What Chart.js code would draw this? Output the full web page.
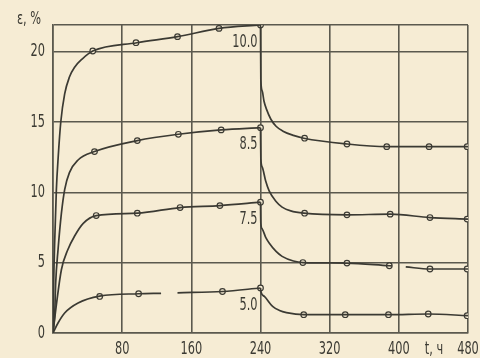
<!DOCTYPE html>
<html>
<head>
<meta charset="utf-8">
<script src="https://cdn.jsdelivr.net/npm/chart.js@4/dist/chart.umd.min.js"></script>
<style>
  html, body { margin: 0; padding: 0; background: #f6ecd4; }
  #chart { display: block; }
</style>
</head>
<body>
<canvas id="chart" width="480" height="358"></canvas>
<script>
// stress levels (curve labels)
const stressLabels = ['10.0', '8.5', '7.5', '5.0'];

// axis ticks
const xTicks = [0, 80, 160, 240, 320, 400, 480];
const yTicks = [0, 5, 10, 15, 20];
const yTop = 21.9;

// creep part (loading, t = 0..240 h)
const creepT100 = [0, 0.8, 2, 3.9, 6, 9, 13.5, 19, 25, 34, 46, 97, 144, 192, 240];
const creepE100 = [0, 3.6, 6.6, 10.2, 12.5, 15, 17, 18.2, 18.9, 19.5, 20.05, 20.64, 21.07, 21.66, 21.9];
const creepT85 = [0, 2, 3.1, 5.8, 9.7, 13.5, 19, 29, 48, 97.5, 145, 194.5, 240];
const creepE85 = [0, 1.4, 3.55, 5.9, 8.5, 10.2, 11.4, 12.3, 12.9, 13.68, 14.13, 14.44, 14.6];
const creepT75 = [0, 3.9, 9.7, 17, 25, 35, 50, 97.5, 147, 193, 240];
const creepE75 = [0, 2, 4.5, 5.9, 6.9, 7.8, 8.35, 8.52, 8.92, 9.06, 9.3];
const creepT50 = [0, 5.8, 13.5, 29, 54, 99, 125, 135, 144, 196, 240];
const creepE50 = [0, 0.71, 1.42, 2.13, 2.62, 2.79, 2.82, null, 2.86, 2.95, 3.2];

// recovery part (unloaded, t = 240..480 h)
const recovT100 = [240, 240.4, 242, 244, 247, 252, 258, 266, 278, 290, 340, 386, 435, 480];
const recovE100 = [21.9, 18.0, 17.2, 16.5, 15.9, 15.2, 14.7, 14.35, 14.05, 13.85, 13.44, 13.25, 13.25, 13.25];
const recovT85 = [240, 240.4, 242, 246, 250, 258, 265, 275, 290, 340, 390, 436, 480];
const recovE85 = [14.6, 12.4, 11.8, 10.8, 10.1, 9.35, 8.95, 8.68, 8.52, 8.4, 8.45, 8.21, 8.1];
const recovT75 = [240, 240.4, 242, 246, 250, 258, 265, 278, 289, 340, 389, 392, 400, 408, 436, 480];
const recovE75 = [9.3, 7.8, 7.4, 6.8, 6.4, 5.8, 5.45, 5.12, 5.01, 4.97, 4.78, 4.77, null, 4.7, 4.55, 4.55];
const recovT50 = [240, 240.4, 244.5, 254, 262, 270, 290, 338, 388, 434, 480];
const recovE50 = [3.2, 2.95, 2.6, 1.89, 1.6, 1.45, 1.3, 1.3, 1.3, 1.35, 1.23];

// measured points (circles)
const markT100 = [46, 96, 144, 192, 240, 291, 340, 386, 435, 479];
const markE100 = [20.05, 20.64, 21.07, 21.66, 21.9, 13.85, 13.44, 13.25, 13.25, 13.25];
const markT85 = [48, 97.5, 145, 194.5, 240, 291, 340, 390, 436, 479];
const markE85 = [12.9, 13.68, 14.13, 14.44, 14.6, 8.52, 8.4, 8.45, 8.21, 8.1];
const markT75 = [50, 97.5, 147, 193, 240, 289, 340, 389, 436, 479];
const markE75 = [8.35, 8.52, 8.92, 9.06, 9.3, 5.01, 4.97, 4.78, 4.55, 4.55];
const markT50 = [54, 99, 196, 240, 290, 338, 388, 434, 479];
const markE50 = [2.6, 2.79, 2.95, 3.2, 1.3, 1.3, 1.3, 1.35, 1.23];

// colours / fonts
const paper = '#f6ecd4';
const ink = '#3b3a33';
const gridInk = '#5b594e';
const narrowFont = "18px 'DejaVu Sans Condensed', 'DejaVu Sans', sans-serif";
const squeeze = 0.7;   // old drafting font is tall and narrow

function toPoints(ts, es) {
    return ts.map((t, i) => ({ x: t, y: es[i] }));
}

function lineSet(ts, es) {
    return {
        data: toPoints(ts, es),
        borderColor: ink,
        borderWidth: 1.7,
        pointRadius: 0,
        fill: false,
        spanGaps: false,
        cubicInterpolationMode: 'monotone'
    };
}

function markSet(ts, es) {
    return {
        data: toPoints(ts, es),
        showLine: false,
        pointRadius: 2.8,
        pointBackgroundColor: paper,
        pointBorderColor: ink,
        pointBorderWidth: 1.2
    };
}

// narrow text helper
function narrowText(ctx, txt, x, y, align) {
    ctx.save();
    ctx.translate(x, y);
    ctx.scale(squeeze, 1);
    ctx.textAlign = align;
    ctx.fillText(txt, 0, 0);
    ctx.restore();
}

const creepEnds = [creepE100, creepE85, creepE75, creepE50].map(a => a[a.length - 1]);

// tick labels, axis names and stress labels
const textPlugin = {
    id: 'textPlugin',
    beforeDraw(chart) {
        const ctx = chart.ctx;
        ctx.save();
        ctx.fillStyle = paper;
        ctx.fillRect(0, 0, chart.width, chart.height);
        ctx.restore();
    },
    afterDraw(chart) {
        const ctx = chart.ctx;
        const xs = chart.scales.x;
        const ys = chart.scales.y;
        ctx.save();
        ctx.fillStyle = ink;
        ctx.font = narrowFont;
        ctx.textBaseline = 'middle';

        // y tick labels
        ys.ticks.forEach(t => {
            if (t.value === yTop) return;
            narrowText(ctx, String(t.value), 45, ys.getPixelForValue(t.value), 'right');
        });
        // x tick labels
        xs.ticks.forEach(t => {
            if (t.value === 0) return;
            narrowText(ctx, String(t.value), xs.getPixelForValue(t.value), 349, 'center');
        });

        // stress labels just left of the unloading line
        stressLabels.forEach((lbl, i) => {
            narrowText(ctx, lbl, xs.getPixelForValue(240) - 3, ys.getPixelForValue(creepEnds[i]) + 17, 'right');
        });

        // axis names
        narrowText(ctx, 'ε, %', 29, 19, 'center');
        narrowText(ctx, 't, ч', 434, 349, 'center');
        ctx.restore();
    }
};

new Chart(document.getElementById('chart').getContext('2d'), {
    type: 'line',
    data: {
        datasets: [
            lineSet(creepT100, creepE100), lineSet(recovT100, recovE100),
            lineSet(creepT85, creepE85), lineSet(recovT85, recovE85),
            lineSet(creepT75, creepE75), lineSet(recovT75, recovE75),
            lineSet(creepT50, creepE50), lineSet(recovT50, recovE50),
            markSet(markT100, markE100), markSet(markT85, markE85),
            markSet(markT75, markE75), markSet(markT50, markE50)
        ]
    },
    options: {
        responsive: false,
        devicePixelRatio: 1,
        animation: false,
        layout: { padding: { top: 25, right: 12, left: 0, bottom: 0 } },
        plugins: { legend: { display: false }, tooltip: { enabled: false } },
        scales: {
            x: {
                type: 'linear',
                min: 0,
                max: 480,
                afterBuildTicks: s => { s.ticks = xTicks.map(v => ({ value: v })); },
                afterFit: s => { s.height = 25; s.paddingLeft = 0; s.paddingRight = 0; },
                ticks: { display: false },
                grid: { color: gridInk, lineWidth: 1.6, drawTicks: false },
                border: { color: gridInk, width: 1.6 }
            },
            y: {
                min: 0,
                max: yTop,
                afterBuildTicks: s => { s.ticks = yTicks.concat([yTop]).map(v => ({ value: v })); },
                afterFit: s => { s.width = 53; s.paddingTop = 0; s.paddingBottom = 0; },
                ticks: { display: false },
                grid: { color: gridInk, lineWidth: 1.6, drawTicks: false },
                border: { color: gridInk, width: 1.6 }
            }
        }
    },
    plugins: [textPlugin]
});
</script>
</body>
</html>
